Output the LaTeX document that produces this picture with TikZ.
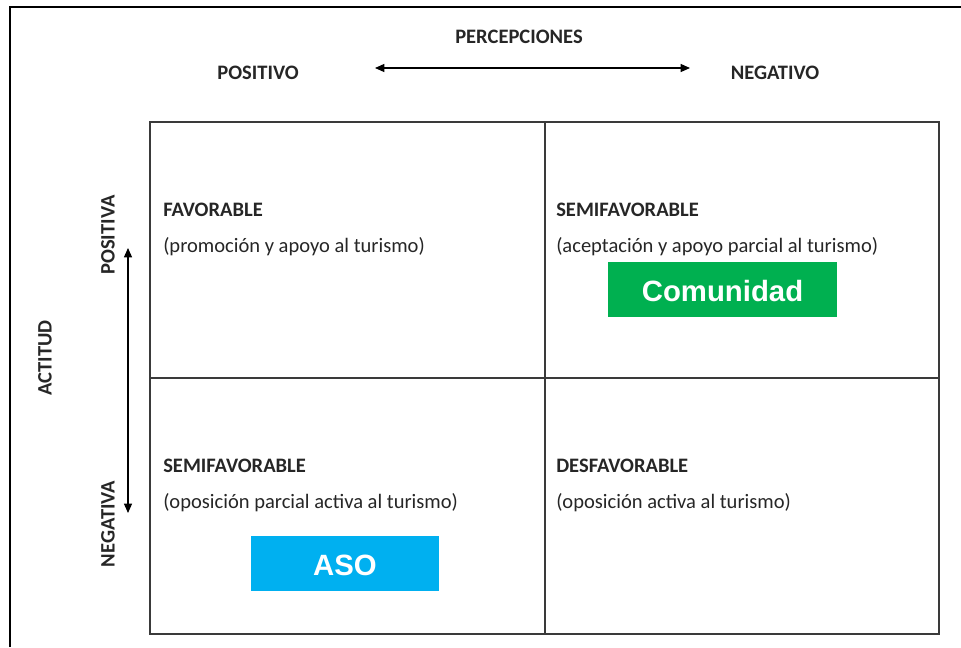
\documentclass[tikz,border=0pt]{standalone}
\usepackage{fontspec}
\setmainfont{Carlito}
\newfontfamily\arialf{Liberation Sans}
\usetikzlibrary{arrows.meta}
\definecolor{xgreen}{HTML}{00B050}
\definecolor{xblue}{HTML}{00B0F0}
\definecolor{gridc}{HTML}{3A3A3A}
\tikzset{
  head/.style={font=\fontsize{15.4pt}{17pt}\selectfont\bfseries, inner sep=0pt, text=black!85},
  sub/.style={font=\fontsize{15.4pt}{17pt}\selectfont, inner sep=0pt, text=black!85, anchor=base west},
  qtitle/.style={head, anchor=base west},
  tag/.style={font=\arialf\fontsize{22pt}{24pt}\selectfont\bfseries, text=white, inner sep=0pt, minimum width=#1},
  dblarrow/.style={line width=0.9pt, {Triangle[length=7pt,width=6pt]}-{Triangle[length=7pt,width=6pt]}},
  gridline/.style={draw=gridc, line width=1.1pt}
}
\begin{document}
\begin{tikzpicture}[x=0.75pt,y=-0.75pt]
\useasboundingbox (0,0) rectangle (961,647);
% outer frame
\draw[line width=1.8pt] (10,647) -- (10,7) -- (961,7);
% grid
\draw[gridline] (150,122) rectangle (939,634);
\draw[gridline] (545,122) -- (545,634);
\draw[gridline] (150,378) -- (939,378);
% top axis
\node[head] (perc) at (519,37) {PERCEPCIONES};
\node[head] (pos) at (258,73) {POSITIVO};
\node[head] (neg) at (775,73) {NEGATIVO};
\coordinate (hL) at (375,68);
\coordinate (hR) at (690,68);
\draw[dblarrow] (hL) -- (hR);
% left axis
\node[head, rotate=90] (act) at (45,358) {ACTITUD};
\node[head, rotate=90] (posa) at (108,235) {POSITIVA};
\node[head, rotate=90] (nega) at (108,524) {NEGATIVA};
\coordinate (vT) at (128,248);
\coordinate (vB) at (128,513);
\draw[dblarrow] (vT) -- (vB);
% quadrants
\node[qtitle] (q1t) at (163,216) {FAVORABLE};
\node[sub] (q1s) at (163,252) {(promoción y apoyo al turismo)};
\node[qtitle] (q2t) at (556,216) {SEMIFAVORABLE};
\node[sub] (q2s) at (556,252) {(aceptación y apoyo parcial al turismo)};
\node[qtitle] (q3t) at (163,472) {SEMIFAVORABLE};
\node[sub] (q3s) at (163,508) {(oposición parcial activa al turismo)};
\node[qtitle] (q4t) at (556,472) {DESFAVORABLE};
\node[sub] (q4s) at (556,508) {(oposición activa al turismo)};
% tags
\fill[xgreen] (608,262) rectangle (837,317);
\node[tag=0pt] (com) at (722.5,291) {Comunidad};
\fill[xblue] (251,536) rectangle (439,591);
\node[tag=0pt] (aso) at (345,565) {ASO};
\end{tikzpicture}
\end{document}
